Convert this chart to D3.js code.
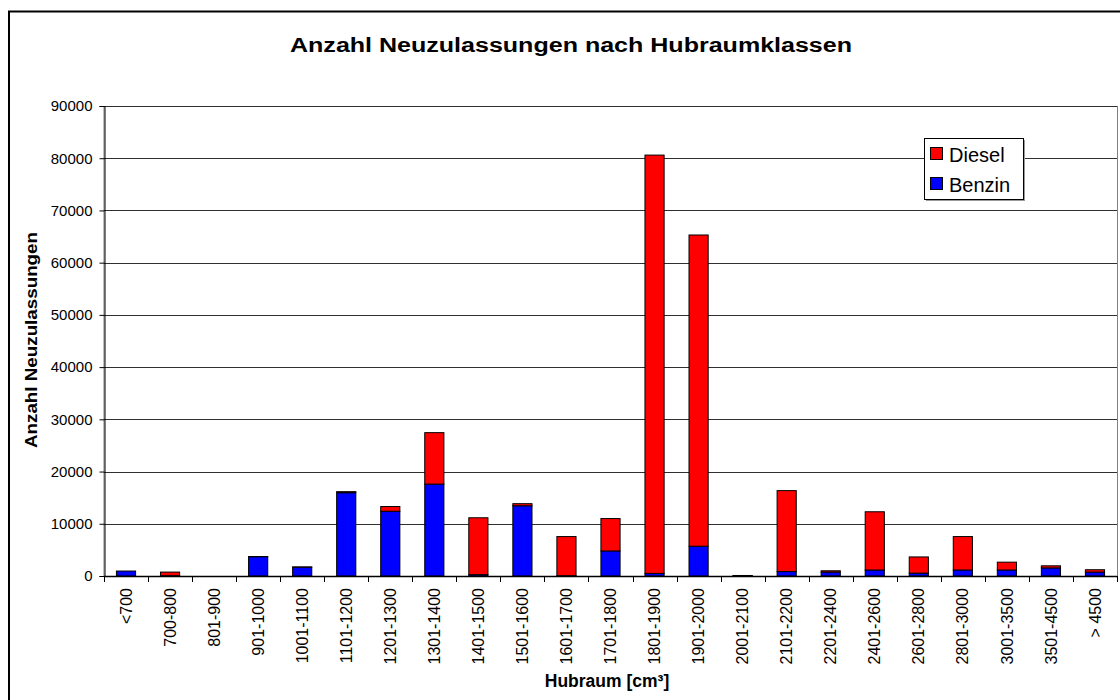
<!doctype html>
<html lang="de">
  <head>
    <meta charset="UTF-8" />
    <title>Anzahl Neuzulassungen nach Hubraumklassen</title>
    <script src="https://d3js.org/d3.v7.min.js"></script>
    <style>
      body {
        margin: 0;
        padding: 0;
        background-color: #ffffff;
        font-family: 'Liberation Sans', Arial, sans-serif;
      }

      svg {
        display: block;
      }

      .tick-label {
        font-size: 15px;
        fill: #000000;
      }

      .category-label {
        font-size: 16px;
        fill: #000000;
      }

      .axis-title {
        font-size: 17.5px;
        font-weight: bold;
      }

      .legend-label {
        font-size: 20px;
      }
    </style>
  </head>
  <body>
    <div id="chart"></div>

    <script>
      // Data
      const categories = [
        '<700', '700-800', '801-900', '901-1000', '1001-1100', '1101-1200',
        '1201-1300', '1301-1400', '1401-1500', '1501-1600', '1601-1700',
        '1701-1800', '1801-1900', '1901-2000', '2001-2100', '2101-2200',
        '2201-2400', '2401-2600', '2601-2800', '2801-3000', '3001-3500',
        '3501-4500', '> 4500',
      ]
      const benzin = [
        950, 50, 0, 3700, 1700, 15950, 12400, 17600, 250, 13450, 50, 4800,
        500, 5700, 50, 850, 750, 1150, 550, 1150, 1150, 1550, 750,
      ]
      const diesel = [
        0, 700, 0, 30, 30, 200, 900, 9850, 10900, 400, 7500, 6200, 80100,
        59600, 50, 15500, 250, 11150, 3100, 6400, 1500, 400, 450,
      ]
      const yTicks = [0, 10000, 20000, 30000, 40000, 50000, 60000, 70000, 80000, 90000]

      const seriesNames = ['Benzin', 'Diesel']
      const colors = { Diesel: '#ff0000', Benzin: '#0000ff' }

      const width = 1120
      const height = 700
      const plot = { left: 104, right: 1117, top: 106, bottom: 576 }

      const svg = d3
        .select('#chart')
        .append('svg')
        .attr('width', width)
        .attr('height', height)

      // Outer chart frame
      svg
        .append('rect')
        .attr('x', 9)
        .attr('y', 11.5)
        .attr('width', width)
        .attr('height', height)
        .attr('fill', '#ffffff')
        .attr('stroke', '#000000')
        .attr('stroke-width', 2)

      // Title
      svg
        .append('text')
        .attr('x', 571)
        .attr('y', 52)
        .attr('text-anchor', 'middle')
        .attr('font-size', '20px')
        .attr('font-weight', 'bold')
        .attr('textLength', 562)
        .attr('lengthAdjust', 'spacingAndGlyphs')
        .text('Anzahl Neuzulassungen nach Hubraumklassen')

      // Scales
      const xBand = d3.scaleBand().domain(categories).range([plot.left, plot.right])
      const xBar = d3
        .scaleBand()
        .domain(categories)
        .range([plot.left, plot.right])
        .paddingInner(0.565)
        .paddingOuter(0.2825)
      const y = d3.scaleLinear().domain([0, 90000]).range([plot.bottom, plot.top])

      // Plot area border
      svg
        .append('rect')
        .attr('x', plot.left)
        .attr('y', plot.top + 0.5)
        .attr('width', plot.right - plot.left + 0.5)
        .attr('height', plot.bottom - plot.top)
        .attr('fill', 'none')
        .attr('stroke', '#808080')
        .attr('stroke-width', 1)

      // Horizontal gridlines
      svg
        .append('g')
        .selectAll('line')
        .data(yTicks.filter((d) => d > 0))
        .enter()
        .append('line')
        .attr('x1', plot.left)
        .attr('x2', plot.right)
        .attr('y1', (d) => Math.round(y(d)) + 0.5)
        .attr('y2', (d) => Math.round(y(d)) + 0.5)
        .attr('stroke', '#303030')
        .attr('stroke-width', 1)

      // Stacked bars: Benzin at the bottom, Diesel on top
      const rows = categories.map((c, i) => ({ category: c, Benzin: benzin[i], Diesel: diesel[i] }))
      const stacked = d3.stack().keys(seriesNames)(rows)

      svg
        .append('g')
        .selectAll('g')
        .data(stacked)
        .enter()
        .append('g')
        .attr('fill', (s) => colors[s.key])
        .selectAll('rect')
        .data((s) => s.filter((d) => d[1] - d[0] > 0))
        .enter()
        .append('rect')
        .attr('x', (d) => xBar(d.data.category))
        .attr('y', (d) => y(d[1]))
        .attr('width', xBar.bandwidth())
        .attr('height', (d) => y(d[0]) - y(d[1]))
        .attr('stroke', '#000000')
        .attr('stroke-width', 1)

      // Y axis
      svg
        .append('g')
        .attr('transform', `translate(${plot.left + 0.5}, 0)`)
        .call(d3.axisLeft(y).tickValues(yTicks).tickSize(5).tickPadding(7).tickFormat(d3.format('d')))
        .call((g) => g.select('.domain').attr('stroke', '#000000'))
        .call((g) => g.selectAll('.tick line').attr('stroke', '#000000'))
        .call((g) =>
          g
            .selectAll('.tick text')
            .attr('class', 'tick-label')
            .attr('font-family', null)
            .attr('font-size', null)
        )

      // X axis line and boundary ticks
      const xAxis = svg.append('g')
      xAxis
        .append('line')
        .attr('x1', plot.left)
        .attr('x2', plot.right)
        .attr('y1', plot.bottom + 0.5)
        .attr('y2', plot.bottom + 0.5)
        .attr('stroke', '#000000')
        .attr('stroke-width', 1.5)

      const boundaries = categories.map((c) => xBand(c)).concat([xBand.range()[1]])
      xAxis
        .selectAll('.boundary')
        .data(boundaries)
        .enter()
        .append('line')
        .attr('class', 'boundary')
        .attr('x1', (d) => Math.round(d) + 0.5)
        .attr('x2', (d) => Math.round(d) + 0.5)
        .attr('y1', plot.bottom)
        .attr('y2', plot.bottom + 6)
        .attr('stroke', '#000000')

      // Category labels, rotated
      xAxis
        .selectAll('.category-label')
        .data(categories)
        .enter()
        .append('text')
        .attr('class', 'category-label')
        .attr('transform', (d) => `translate(${xBand(d) + xBand.bandwidth() / 2}, 588) rotate(-90)`)
        .attr('dy', '0.35em')
        .attr('text-anchor', 'end')
        .text((d) => d)

      // Axis titles
      svg
        .append('text')
        .attr('class', 'axis-title')
        .attr('x', 607)
        .attr('y', 687)
        .attr('text-anchor', 'middle')
        .text('Hubraum [cm³]')

      svg
        .append('text')
        .attr('class', 'axis-title')
        .attr('transform', 'translate(37, 340) rotate(-90)')
        .attr('text-anchor', 'middle')
        .attr('textLength', 216)
        .attr('lengthAdjust', 'spacingAndGlyphs')
        .style('font-size', '16.5px')
        .text('Anzahl Neuzulassungen')

      // Legend
      const legend = svg.append('g').attr('transform', 'translate(924, 138)')
      legend
        .append('rect')
        .attr('x', 2)
        .attr('y', 2)
        .attr('width', 99)
        .attr('height', 61)
        .attr('fill', '#9a9a9a')
      legend
        .append('rect')
        .attr('x', 0.5)
        .attr('y', 0.5)
        .attr('width', 99)
        .attr('height', 61)
        .attr('fill', '#ffffff')
        .attr('stroke', '#000000')

      const legendItems = legend
        .selectAll('.legend-item')
        .data(['Diesel', 'Benzin'])
        .enter()
        .append('g')
        .attr('class', 'legend-item')
        .attr('transform', (d, i) => `translate(6, ${9 + i * 30})`)

      legendItems
        .append('rect')
        .attr('x', 0.5)
        .attr('y', 0.5)
        .attr('width', 12)
        .attr('height', 12)
        .attr('fill', (d) => colors[d])
        .attr('stroke', '#000000')

      legendItems
        .append('text')
        .attr('class', 'legend-label')
        .attr('x', 19)
        .attr('y', 14.5)
        .text((d) => d)
    </script>
  </body>
</html>
